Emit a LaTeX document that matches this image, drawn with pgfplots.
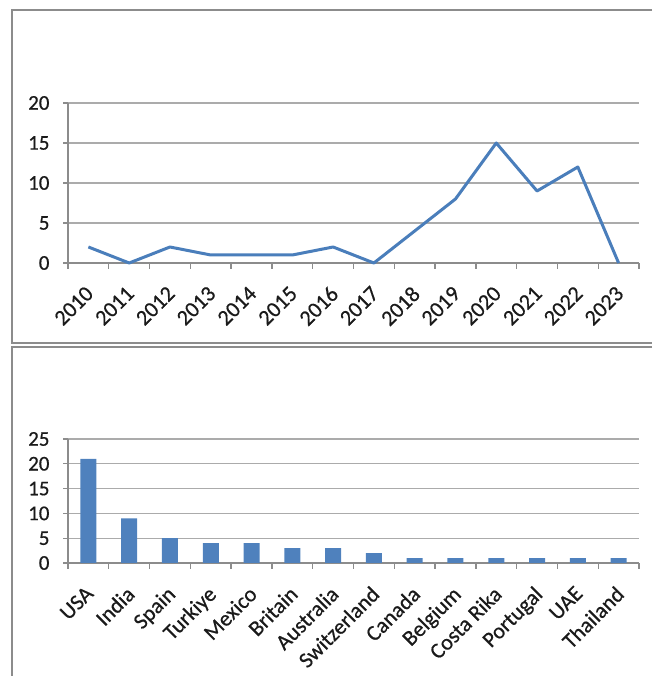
\documentclass[border=0pt]{standalone}
\usepackage{fontspec}
\setmainfont{Carlito}
\newfontfamily\chartfont{Carlito}[FakeBold=0.6]
\usepackage{pgfplots}
\pgfplotsset{compat=1.18}

\definecolor{lineblue}{HTML}{4A7EBB}
\definecolor{barblue}{HTML}{4F81BD}
\definecolor{gridgray}{HTML}{ABABAB}
\definecolor{framegray}{HTML}{8C8C8C}
\definecolor{labelgray}{HTML}{1A1A1A}

\pgfplotsset{
  panel/.style={
    scale only axis,
    width=571pt,
    anchor=south west,
    xmin=-0.5, xmax=13.5,
    ymin=0,
    axis lines*=left,
    clip=false,
    ymajorgrids,
    grid style={gridgray, line width=1.3pt},
    axis line style={framegray, line width=1.3pt},
    tick style={framegray, line width=1.3pt},
    tick align=outside,
    major tick length=5pt,
    minor tick length=6pt,
    xtick={0,...,13},
    minor xtick={-0.5,0.5,...,13.5},
    major x tick style={draw=none},
    /pgf/number format/assume math mode=true,
    tick label style={font=\chartfont\fontsize{21}{24}\selectfont, text=labelgray},
    yticklabel style={xshift=-10pt},
    xticklabel style={font=\chartfont\fontsize{22}{25}\selectfont, inner sep=4pt,
      xshift=-4pt, yshift=-11pt, rotate=45, anchor=north east},
  },
}

\begin{document}
\begin{tikzpicture}
  \useasboundingbox (0pt,0pt) rectangle (652pt,676pt);

  % frames of the two panels
  \draw[framegray, line width=1.6pt] (652pt,666pt) -- (12pt,666pt) -- (12pt,333pt) -- (652pt,333pt);
  \draw[framegray, line width=1.6pt] (652pt,329pt) -- (12pt,329pt) -- (12pt,0pt);

  % publications per year
  \begin{axis}[panel,
      at={(68pt,413pt)}, height=160pt,
      ymax=20, ytick={0,5,...,20},
      xticklabels={2010,2011,2012,2013,2014,2015,2016,2017,2018,2019,2020,2021,2022,2023}]
    \addplot[lineblue, line width=3pt, line join=round] coordinates {
      (0,2) (1,0) (2,2) (3,1) (4,1) (5,1) (6,2)
      (7,0) (8,4) (9,8) (10,15) (11,9) (12,12) (13,0)
    };
  \end{axis}

  % publications per country
  \begin{axis}[panel,
      at={(68pt,113pt)}, height=124pt,
      ymax=25, ytick={0,5,...,25},
      xticklabels={USA,India,Spain,Turkiye,Mexico,Britain,Australia,Switzerland,Canada,Belgium,Costa Rika,Portugal,UAE,Thailand}]
    \addplot[ybar, bar width=16pt, fill=barblue, draw=none] coordinates {
      (0,21) (1,9) (2,5) (3,4) (4,4) (5,3) (6,3)
      (7,2) (8,1) (9,1) (10,1) (11,1) (12,1) (13,1)
    };
  \end{axis}
\end{tikzpicture}
\end{document}
